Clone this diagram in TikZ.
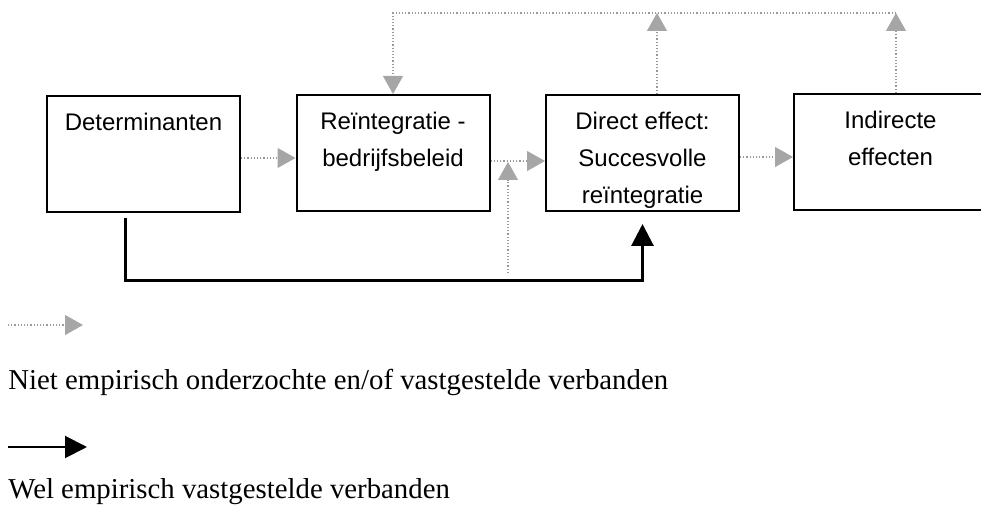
\documentclass[tikz,border=0pt]{standalone}
\usepackage{fontspec}
\setmainfont{Liberation Serif}
\setsansfont{Liberation Sans}
\usetikzlibrary{arrows.meta}

\newcommand{\boxlabel}[1]{\parbox[c][58pt][t]{96.5pt}{\centering\rule{0pt}{17.5pt}#1}}

\tikzset{
  box/.style={draw, line width=1pt, inner sep=0pt, font=\sffamily\fontsize{12}{18.5}\selectfont},
  notest/.style={black!40, line width=0.6pt, densely dotted, -{Triangle[length=9pt,width=10pt,color=black!35,fill=black!35]}},
  test/.style={line width=1.5pt, -{Triangle[length=11pt,width=11pt]}},
  legend/.style={anchor=base west, inner sep=0pt, font=\fontsize{14.4}{17}\selectfont}
}

\begin{document}
\begin{tikzpicture}[x=0.5pt, y=-0.5pt]
\path[use as bounding box, clip] (0,0) rectangle (981,507);

\node [box] (det) at (143.5,154) {\boxlabel{Determinanten}};
\node [box] (beleid) at (393,153) {\boxlabel{Reïntegratie -\\bedrijfsbeleid}};
\node [box] (direct) at (642.5,153) {\boxlabel{Direct effect:\\Succesvolle\\reïntegratie}};
\node [box] (indirect) at (890.5,152) {\boxlabel{Indirecte\\effecten}};

\draw [notest] ([yshift=-2pt]det.east) -- ([yshift=-2pt]det.east -| beleid.west);
\draw [notest] ([yshift=-4pt]beleid.east) -- ([yshift=-4pt]beleid.east -| direct.west);
\draw [notest] ([yshift=-2pt]direct.east) -- ([yshift=-2pt]direct.east -| indirect.west);

\coordinate (top2) at (393,13);
\coordinate (top3) at (657,13);
\coordinate (top4) at (896,13);
\foreach \t/\b in {top3/direct, top4/indirect}
  \draw [notest] (\b.north -| \t) -- (\t);
\draw [notest] (top4) -- (top2) -- (beleid.north);

\coordinate (feed) at (508,273);
\draw [notest] (feed) -- (508,162);

\coordinate (dstart) at (125,218);
\coordinate (dcorner) at (125,281);
\draw [test] (dstart) -- (dcorner) -| ([yshift=-6pt]direct.south);

\coordinate (leg1) at (8,325);
\coordinate (leg2) at (8,447);
\draw [notest] (leg1) -- ++(75,0);
\draw [test, line width=1pt] (leg2) -- ++(79,0);
\node [legend] (niet) at (8,390) {Niet empirisch onderzochte en/of vastgestelde verbanden};
\node [legend] (wel) at (8,499) {Wel empirisch vastgestelde verbanden};
\end{tikzpicture}
\end{document}
